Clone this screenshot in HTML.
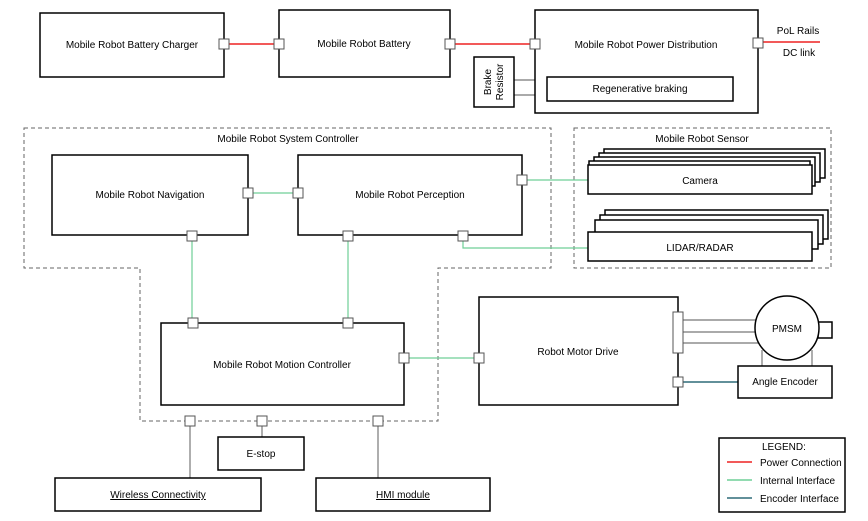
<!DOCTYPE html>
<html><head><style>body{margin:0;background:#fff}svg{display:block}text{font-family:"Liberation Sans",sans-serif;font-size:10px;fill:#000}</style></head>
<body>
<svg width="868" height="521" xmlns="http://www.w3.org/2000/svg">
<g fill="none" stroke="#666" stroke-width="1" stroke-dasharray="4,3">
<polygon points="24,128 551,128 551,268 438,268 438,421 140,421 140,268 24,268"/>
<rect x="574" y="128" width="257" height="140"/>
</g>
<g stroke="#ee2222" stroke-width="1.5">
<line x1="229" y1="44" x2="279" y2="44"/>
<line x1="455" y1="44" x2="535" y2="44"/>
<line x1="763" y1="42" x2="820" y2="42"/>
</g>
<g stroke="#6fcf97" stroke-width="1.2" fill="none">
<line x1="253" y1="193" x2="298" y2="193"/>
<line x1="192" y1="241" x2="192" y2="323"/>
<line x1="348" y1="241" x2="348" y2="323"/>
<line x1="527" y1="180" x2="588" y2="180"/>
<polyline points="463,241 463,248 588,248"/>
<line x1="409" y1="358" x2="479" y2="358"/>
</g>
<line x1="683" y1="382" x2="738" y2="382" stroke="#2f6b78" stroke-width="1.5"/>
<g stroke="#777" stroke-width="1.2">
<line x1="514" y1="80" x2="547" y2="80"/><line x1="514" y1="95" x2="547" y2="95"/>
<line x1="190" y1="426" x2="190" y2="478"/>
<line x1="262" y1="426" x2="262" y2="437"/>
<line x1="378" y1="426" x2="378" y2="478"/>
<line x1="683" y1="320" x2="760" y2="320"/><line x1="683" y1="332" x2="755" y2="332"/><line x1="683" y1="343" x2="760" y2="343"/>
<line x1="762" y1="350" x2="762" y2="366"/><line x1="812" y1="350" x2="812" y2="366"/>
</g>
<g fill="#fff" stroke="#000" stroke-width="1.5">
<rect x="40" y="13" width="184" height="64"/>
<rect x="279" y="10" width="171" height="67"/>
<rect x="535" y="10" width="223" height="103"/>
<rect x="474" y="57" width="40" height="50"/>
<rect x="547" y="77" width="186" height="24"/>
<rect x="52" y="155" width="196" height="80"/>
<rect x="298" y="155" width="224" height="80"/>
<rect x="161" y="323" width="243" height="82"/>
<rect x="479" y="297" width="199" height="108"/>
<rect x="218" y="437" width="86" height="33"/>
<rect x="55" y="478" width="206" height="33"/>
<rect x="316" y="478" width="174" height="33"/>
<rect x="604" y="149" width="221" height="29"/><rect x="599" y="153" width="221" height="29"/><rect x="594" y="157" width="221" height="29"/><rect x="589" y="161" width="221" height="29"/>
<rect x="588" y="165" width="224" height="29"/>
<rect x="605" y="210" width="223" height="29"/><rect x="600" y="215" width="223" height="29"/><rect x="595" y="220" width="223" height="29"/>
<rect x="588" y="232" width="224" height="29"/>
<rect x="818" y="322" width="14" height="16"/>
<circle cx="787" cy="328" r="32"/>
<rect x="738" y="366" width="94" height="32"/>
<rect x="719" y="438" width="126" height="74"/>
</g>
<g fill="#fff" stroke="#555" stroke-width="1">
<rect x="219" y="39" width="10" height="10"/><rect x="274" y="39" width="10" height="10"/><rect x="445" y="39" width="10" height="10"/><rect x="530" y="39" width="10" height="10"/><rect x="753" y="38" width="10" height="10"/>
<rect x="243" y="188" width="10" height="10"/><rect x="293" y="188" width="10" height="10"/><rect x="187" y="231" width="10" height="10"/><rect x="343" y="231" width="10" height="10"/><rect x="458" y="231" width="10" height="10"/><rect x="517" y="175" width="10" height="10"/>
<rect x="188" y="318" width="10" height="10"/><rect x="343" y="318" width="10" height="10"/><rect x="399" y="353" width="10" height="10"/><rect x="474" y="353" width="10" height="10"/>
<rect x="185" y="416" width="10" height="10"/><rect x="257" y="416" width="10" height="10"/><rect x="373" y="416" width="10" height="10"/>
<rect x="673" y="312" width="10" height="41"/><rect x="673" y="377" width="10" height="10"/>
</g>
<g text-anchor="middle">
<text x="132" y="48">Mobile Robot Battery Charger</text>
<text x="364" y="47">Mobile Robot Battery</text>
<text x="646" y="48">Mobile Robot Power Distribution</text>
<text x="640" y="92">Regenerative braking</text>
<text x="798" y="34">PoL Rails</text>
<text x="799" y="56">DC link</text>
<text transform="translate(491,82) rotate(-90)">Brake</text>
<text transform="translate(503,82) rotate(-90)">Resistor</text>
<text x="288" y="142">Mobile Robot System Controller</text>
<text x="702" y="142">Mobile Robot Sensor</text>
<text x="150" y="198">Mobile Robot Navigation</text>
<text x="410" y="198">Mobile Robot Perception</text>
<text x="700" y="184">Camera</text>
<text x="700" y="251">LIDAR/RADAR</text>
<text x="282" y="368">Mobile Robot Motion Controller</text>
<text x="578" y="355">Robot Motor Drive</text>
<text x="787" y="332">PMSM</text>
<text x="785" y="385">Angle Encoder</text>
<text x="261" y="457">E-stop</text>
<text x="158" y="498" text-decoration="underline">Wireless Connectivity</text>
<text x="403" y="498" text-decoration="underline">HMI module</text>
</g>
<text x="762" y="450">LEGEND:</text>
<line x1="727" y1="462" x2="752" y2="462" stroke="#ee2222" stroke-width="1.5"/><text x="760" y="466">Power Connection</text>
<line x1="727" y1="480" x2="752" y2="480" stroke="#6fcf97" stroke-width="1.5"/><text x="760" y="484">Internal Interface</text>
<line x1="727" y1="498" x2="752" y2="498" stroke="#2f6b78" stroke-width="1.5"/><text x="760" y="502">Encoder Interface</text>
</svg>
</body></html>
